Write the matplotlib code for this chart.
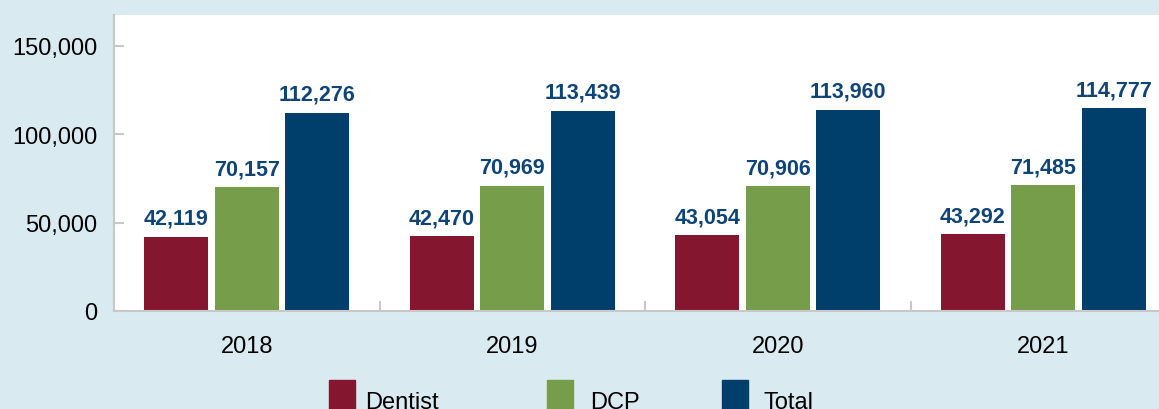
import numpy as np
import matplotlib.pyplot as plt
from matplotlib.patches import Rectangle
from matplotlib.ticker import FuncFormatter

# --- Data ---
years = ['2018', '2019', '2020', '2021']
series_names = ['Dentist', 'DCP', 'Total']
dentist = [42119, 42470, 43054, 43292]
dcp = [70157, 70969, 70906, 71485]
total = [112276, 113439, 113960, 114777]

# --- Style ---
colors = ['#85162F', '#759D4A', '#003F6C']
label_color = '#0F4576'
bg_color = '#DAEAF1'
axis_gray = '#C8C8C8'

plt.rcParams['font.family'] = ['Liberation Sans', 'DejaVu Sans']

W, H = 1159, 410
fig = plt.figure(figsize=(W / 100, H / 100), dpi=100, facecolor=bg_color)
# axes run slightly past the right edge, as in the reference crop
ax = fig.add_axes([114 / W, (H - 312) / H, (1176 - 114) / W, (312 - 16) / H])
ax.set_facecolor('white')

x = np.arange(len(years))
bar_w = 0.241
step = 0.2655
for i, (vals, c) in enumerate(zip([dentist, dcp, total], colors)):
    pos = x + (i - 1) * step
    bars = ax.bar(pos, vals, width=bar_w, color=c, zorder=2)
    for b, v in zip(bars, vals):
        ax.annotate(f'{v:,}', (b.get_x() + b.get_width() / 2, v),
                    xytext=(0, 5.5), textcoords='offset points',
                    ha='center', va='bottom', fontsize=15.5, fontweight='bold',
                    color=label_color)

ax.set_xlim(-0.5, len(years) - 0.5)
ax.set_ylim(0, 167500)
ax.set_yticks([0, 50000, 100000, 150000])
ax.yaxis.set_major_formatter(FuncFormatter(lambda v, p: f'{int(v):,}'))

# boundary ticks between groups, labels at group centres
ax.set_xticks(np.arange(0.5, len(years) - 0.5, 1))
ax.set_xticklabels([])
ax.set_xticks(x, minor=True)
ax.set_xticklabels(years, minor=True)
ax.tick_params(axis='x', which='minor', length=0, pad=17, labelsize=17)
ax.tick_params(axis='x', which='major', direction='in', length=7, width=1.5, color=axis_gray)
ax.tick_params(axis='y', direction='in', length=7, width=1.5, color=axis_gray, pad=12, labelsize=17)

for s in ['top', 'right']:
    ax.spines[s].set_visible(False)
for s in ['left', 'bottom']:
    ax.spines[s].set_color(axis_gray)
    ax.spines[s].set_linewidth(1.5)

# --- Legend (cut off at the bottom like the reference) ---
legend_sq_x = [329, 547, 722]
legend_txt_x = [365, 590, 764]
for name, c, sx, tx in zip(series_names, colors, legend_sq_x, legend_txt_x):
    fig.add_artist(Rectangle((sx / W, 0), 26 / W, (H - 381) / H,
                             transform=fig.transFigure, color=c))
    fig.text(tx / W, 1 / H, name, fontsize=17, va='baseline', ha='left')

fig.savefig('out.png', dpi=100, facecolor=bg_color)
